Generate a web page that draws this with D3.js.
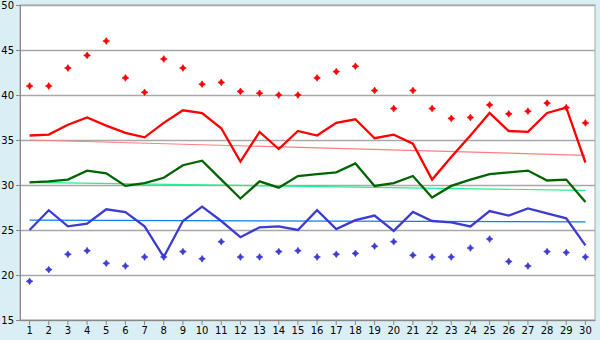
<!DOCTYPE html>
<html>
<head>
<meta charset="utf-8">
<script src="https://cdn.jsdelivr.net/npm/d3@7"></script>
<style>
  body { margin: 0; background: #d9eff5; }
  svg { display: block; }
  text { font-family: "DejaVu Sans", Verdana, sans-serif; font-size: 10px; fill: #000; }
</style>
</head>
<body>
<div id="chart"></div>
<script>
(function (d3) {
  'use strict';

// data
const days = d3.range(1, 31);
const yTicks = [15, 20, 25, 30, 35, 40, 45, 50];

const redLine = [35.5, 35.6, 36.7, 37.5, 36.6, 35.8, 35.3, 36.9, 38.3, 38.0,
  36.3, 32.6, 35.9, 34.0, 36.0, 35.5, 36.9, 37.3, 35.2, 35.6,
  34.6, 30.6, 33.1, 35.5, 38.0, 36.0, 35.9, 38.0, 38.6, 32.5];
const greenLine = [30.3, 30.4, 30.6, 31.6, 31.3, 29.9, 30.2, 30.8, 32.2, 32.7,
  30.6, 28.5, 30.4, 29.7, 31.0, 31.2, 31.4, 32.4, 29.9, 30.2,
  31.0, 28.6, 29.9, 30.6, 31.2, 31.4, 31.6, 30.5, 30.6, 28.1];
const blueLine = [25.0, 27.2, 25.4, 25.7, 27.3, 27.0, 25.4, 22.0, 26.0, 27.6,
  26.0, 24.2, 25.3, 25.4, 25.0, 27.2, 25.1, 26.1, 26.6, 24.9,
  27.0, 26.0, 25.85, 25.4, 27.1, 26.6, 27.4, 26.85, 26.3, 23.3];
const redPoints = [41.0, 41.0, 43.0, 44.4, 46.0, 41.9, 40.3, 44.0, 43.0, 41.2,
  41.4, 40.4, 40.2, 40.0, 40.0, 41.9, 42.6, 43.2, 40.5, 38.5,
  40.5, 38.5, 37.4, 37.5, 38.9, 37.9, 38.2, 39.1, 38.6, 36.9];
const bluePoints = [19.3, 20.6, 22.3, 22.7, 21.3, 21.0, 22.0, 22.0, 22.6, 21.8,
  23.7, 22.0, 22.0, 22.6, 22.7, 22.0, 22.3, 22.4, 23.2, 23.7,
  22.2, 22.0, 22.0, 23.0, 24.0, 21.5, 21.0, 22.6, 22.5, 22.0];
// trend lines: value at day 1 and day 30
const redTrend = [35.0, 33.3];
const greenTrend = [30.3, 29.4];
const blueTrend = [26.1, 25.9];

const W = 600, H = 340;
const margin = {top: 5, right: 5, bottom: 20, left: 20},
  width = W - margin.left - margin.right,
  height = H - margin.top - margin.bottom;

const svg = d3.select("#chart")
  .append("svg")
    .attr("width", W)
    .attr("height", H)
  .append("g")
    .attr("transform", `translate(${margin.left},${margin.top})`);

const x = d3.scaleBand()
  .domain(days)
  .range([0, width])
  .padding(0);
const cx = d => x(d) + x.bandwidth() / 2;

const y = d3.scaleLinear()
  .domain([15, 50])
  .range([height, 0]);

// plot background
svg.append("rect")
  .attr("width", width)
  .attr("height", height)
  .attr("fill", "#fff")
  .attr("stroke", "#a8a8a8");

// horizontal grid
svg.append("g")
  .selectAll("line")
  .data(yTicks)
  .join("line")
    .attr("x1", 0)
    .attr("x2", width)
    .attr("y1", d => Math.round(y(d)) + 0.5)
    .attr("y2", d => Math.round(y(d)) + 0.5)
    .attr("stroke", "#a8a8a8")
    .attr("stroke-width", 1.3);

// axes
const yAxis = svg.append("g")
  .call(d3.axisLeft(y).tickValues(yTicks).tickSize(4).tickPadding(2));
const xAxis = svg.append("g")
  .attr("transform", `translate(0, ${height})`)
  .call(d3.axisBottom(x).tickSize(5).tickSizeOuter(0).tickPadding(2));
[xAxis, yAxis].forEach(a => {
  a.selectAll("path, line").attr("stroke", "#888");
  a.selectAll("text").attr("font-size", null).attr("font-family", null);
});

// trend lines
const trends = [
  {v: redTrend, c: "#ff7f7f"},
  {v: greenTrend, c: "#1ef08c"},
  {v: blueTrend, c: "#0a7ff0"}
];
svg.append("g")
  .selectAll("line")
  .data(trends)
  .join("line")
    .attr("x1", cx(days[0]))
    .attr("x2", cx(days[days.length - 1]))
    .attr("y1", d => y(d.v[0]))
    .attr("y2", d => y(d.v[1]))
    .attr("stroke", d => d.c)
    .attr("stroke-width", 1.2);

// main lines
const line = d3.line()
  .x((d, i) => cx(days[i]))
  .y(d => y(d));
const series = [
  {v: redLine, c: "#ff0000"},
  {v: greenLine, c: "#006400"},
  {v: blueLine, c: "#3c3cd2"}
];
svg.append("g")
  .selectAll("path")
  .data(series)
  .join("path")
    .attr("d", d => line(d.v))
    .attr("fill", "none")
    .attr("stroke", d => d.c)
    .attr("stroke-width", 2.3)
    .attr("stroke-linejoin", "miter");

// markers
const star = "M0,-3.4L1.3,-1.3L3.4,0L1.3,1.3L0,3.4L-1.3,1.3L-3.4,0L-1.3,-1.3Z";
const markers = [
  {v: redPoints, c: "#ff0000"},
  {v: bluePoints, c: "#3c3cd2"}
];
markers.forEach(m => {
  svg.append("g")
    .selectAll("path")
    .data(m.v)
    .join("path")
      .attr("transform", (d, i) => `translate(${cx(days[i])},${y(d)})`)
      .attr("d", star)
      .attr("fill", m.c)
      .attr("stroke", m.c)
      .attr("stroke-width", 0.6);
});

}(d3));
</script>
</body>
</html>
